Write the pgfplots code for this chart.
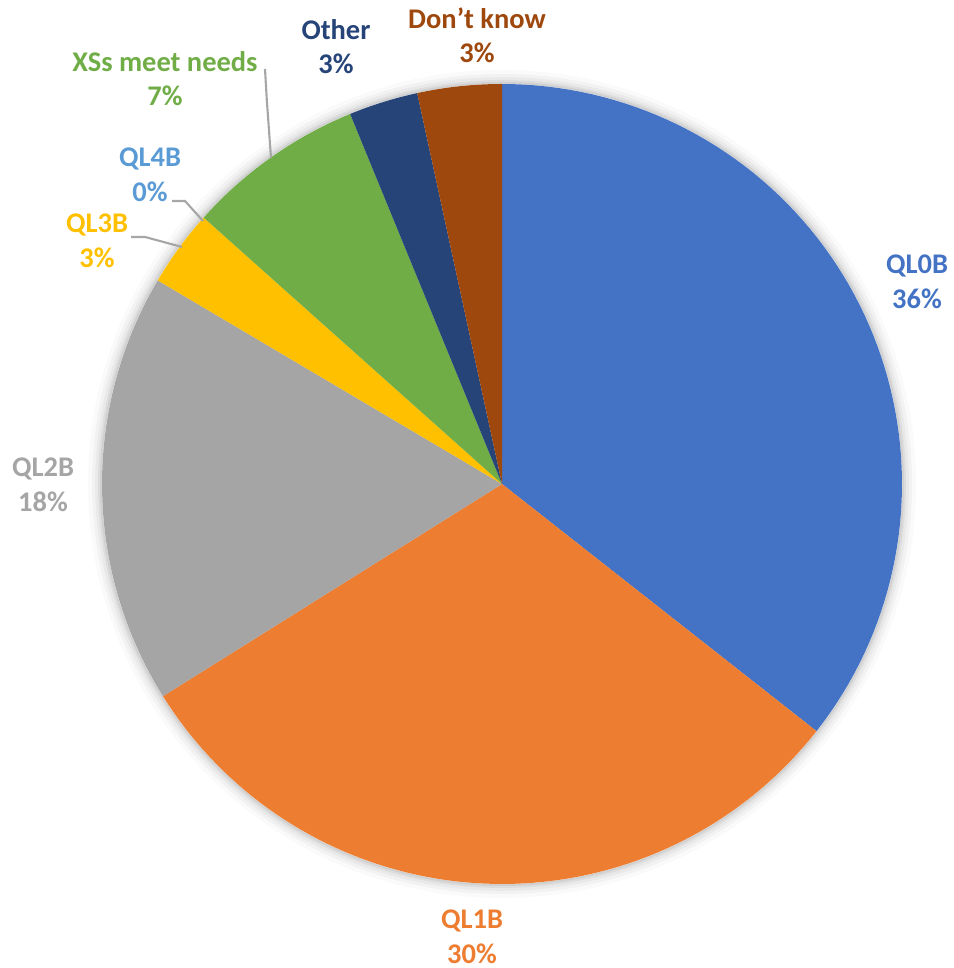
\documentclass[border=0pt]{standalone}
\usepackage{pgfplots}
\pgfplotsset{compat=1.18}
\usepackage{fontspec}
\setmainfont{Carlito}
\definecolor{cA}{HTML}{4472C4}
\definecolor{cB}{HTML}{ED7D31}
\definecolor{cC}{HTML}{A5A5A5}
\definecolor{cD}{HTML}{FFC000}
\definecolor{cE}{HTML}{5B9BD5}
\definecolor{cF}{HTML}{70AD47}
\definecolor{cG}{HTML}{264478}
\definecolor{cH}{HTML}{9E480E}
\tikzset{lbl/.style={font=\bfseries\fontsize{8.1}{9.8}\selectfont, align=center, inner sep=0pt}}
\begin{document}
\begin{tikzpicture}
\begin{axis}[
  width=9.54cm, height=9.68cm, scale only axis,
  xmin=-1.255, xmax=1.13, ymin=-1.21, ymax=1.21,
  hide axis, clip=false,
]
% soft shadow
\fill[black, opacity=0.02] (axis cs:0,0) circle[radius=1.035];
\fill[black, opacity=0.03] (axis cs:0,0) circle[radius=1.025];
\fill[black, opacity=0.04] (axis cs:0,0) circle[radius=1.017];
\fill[black, opacity=0.05] (axis cs:0,0) circle[radius=1.01];
\fill[black, opacity=0.06] (axis cs:0,0) circle[radius=1.005];
\fill[white] (axis cs:0,0) circle[radius=1];
% slices: values 35.6, 30.5, 17.4, 3.1, 0, 7.2, 2.8, 3.4 (percent), clockwise from top
\addplot[fill=cA, draw=none, domain={90-3.6*35.6}:{90}, samples=80, variable=\t] ({cos(\t)},{sin(\t)}) -- (axis cs:0,0) -- cycle;
\addplot[fill=cB, draw=none, domain={90-3.6*66.1}:{90-3.6*35.6}, samples=80, variable=\t] ({cos(\t)},{sin(\t)}) -- (axis cs:0,0) -- cycle;
\addplot[fill=cC, draw=none, domain={90-3.6*83.5}:{90-3.6*66.1}, samples=60, variable=\t] ({cos(\t)},{sin(\t)}) -- (axis cs:0,0) -- cycle;
\addplot[fill=cD, draw=none, domain={90-3.6*86.6}:{90-3.6*83.5}, samples=20, variable=\t] ({cos(\t)},{sin(\t)}) -- (axis cs:0,0) -- cycle;
\addplot[fill=cF, draw=none, domain={90-3.6*93.8}:{90-3.6*86.6}, samples=30, variable=\t] ({cos(\t)},{sin(\t)}) -- (axis cs:0,0) -- cycle;
\addplot[fill=cG, draw=none, domain={90-3.6*96.6}:{90-3.6*93.8}, samples=20, variable=\t] ({cos(\t)},{sin(\t)}) -- (axis cs:0,0) -- cycle;
\addplot[fill=cH, draw=none, domain={90-3.6*100}:{90-3.6*96.6}, samples=20, variable=\t] ({cos(\t)},{sin(\t)}) -- (axis cs:0,0) -- cycle;
% leader lines
\addplot[gray!70, line width=0.6pt, mark=none] coordinates {(-0.5925,1.0375) (-0.588,0.96) (-0.5775,0.815)};
\addplot[gray!70, line width=0.6pt, mark=none] coordinates {(-0.825,0.7075) (-0.7925,0.7075) (-0.7475,0.6575)};
\addplot[gray!70, line width=0.6pt, mark=none] coordinates {(-0.9275,0.6175) (-0.8925,0.6175) (-0.80,0.5925)};
% labels
\node[lbl, text=cA] at (axis cs:1.0375,0.506) {QL0B\\36\%};
\node[lbl, text=cB] at (axis cs:-0.075,-1.1325) {QL1B\\30\%};
\node[lbl, text=cC] at (axis cs:-1.1475,-0.0025) {QL2B\\18\%};
\node[lbl, text=cD] at (axis cs:-1.0125,0.6075) {QL3B\\3\%};
\node[lbl, text=cE] at (axis cs:-0.88,0.7725) {QL4B\\0\%};
\node[lbl, text=cF] at (axis cs:-0.8425,1.01375) {XSs meet needs\\7\%};
\node[lbl, text=cG] at (axis cs:-0.415,1.09375) {Other\\3\%};
\node[lbl, text=cH] at (axis cs:-0.0625,1.12125) {Don’t know\\3\%};
\end{axis}
\pgfresetboundingbox
\path (current axis.south west) rectangle (current axis.north east);
\end{tikzpicture}
\end{document}
